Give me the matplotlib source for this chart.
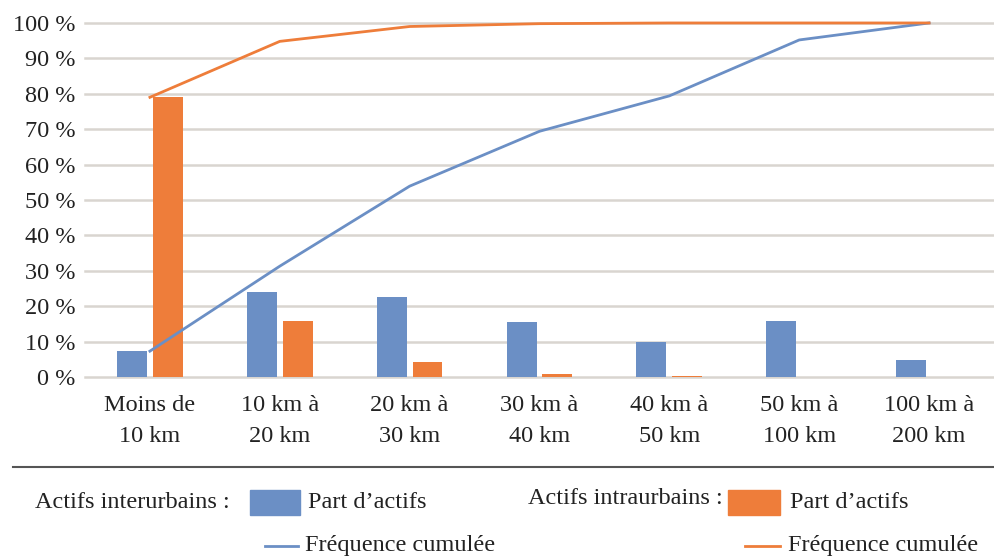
import matplotlib
matplotlib.use("Agg")
import matplotlib.pyplot as plt
from matplotlib.patches import Rectangle
from matplotlib.lines import Line2D
import numpy as np

plt.rcParams['font.family'] = ['Liberation Serif', 'DejaVu Serif']

categories = ["Moins de\n10 km", "10 km à\n20 km", "20 km à\n30 km", "30 km à\n40 km",
              "40 km à\n50 km", "50 km à\n100 km", "100 km à\n200 km"]
inter_part = [7.3, 24.0, 22.6, 15.5, 10.0, 15.8, 4.8]
intra_part = [79.0, 15.8, 4.2, 0.8, 0.2, 0.0, 0.0]
inter_cum = [7.3, 31.3, 53.9, 69.4, 79.4, 95.2, 100.0]
intra_cum = [79.0, 94.8, 99.0, 99.8, 100.0, 100.0, 100.0]
yticks = [0, 10, 20, 30, 40, 50, 60, 70, 80, 90, 100]

blue = "#6B8FC5"
orange = "#EE7D3A"
grid = "#D9D5D0"
txt = "#222222"

fig = plt.figure(figsize=(9.94, 5.6), dpi=100)
ax = fig.add_axes([0.0855, 0.3268, 0.9145, 0.6322])

x = np.arange(len(categories))
w = 0.23
ax.bar(x - 0.138, inter_part, w, color=blue, zorder=2)
ax.bar(x + 0.138, intra_part, w, color=orange, zorder=2)
ax.plot(x, inter_cum, color=blue, lw=2, zorder=3, clip_on=False)
ax.plot(x, intra_cum, color=orange, lw=2, zorder=3, clip_on=False)

ax.set_xlim(-0.5, len(categories) - 0.5)
ax.set_ylim(0, 100)
ax.set_yticks(yticks)
ax.set_yticklabels([f"{v} %" for v in yticks])
ax.set_xticks(x)
ax.set_xticklabels(categories, linespacing=1.6)
ax.tick_params(axis='y', length=0, pad=7, labelsize=17.5, labelcolor=txt)
ax.tick_params(axis='x', length=0, pad=13, labelsize=17.5, labelcolor=txt)

for v in yticks:
    ax.axhline(v, color=grid, lw=1.8, zorder=1, clip_on=False)
for s in ax.spines.values():
    s.set_visible(False)

# legend block under the chart
fig.add_artist(Line2D([0.013, 1.0], [1 - 467 / 560] * 2, color="#555555", lw=1.5))
fs = 17.5
fig.text(35 / 994, 1 - 502 / 560, "Actifs interurbains :", fontsize=fs, va='center', color=txt)
fig.add_artist(Rectangle((250 / 994, 1 - 515 / 560), 50 / 994, 25 / 560, color=blue))
fig.text(308 / 994, 1 - 502 / 560, "Part d’actifs", fontsize=fs, va='center', color=txt)
fig.text(528 / 994, 1 - 499 / 560, "Actifs intraurbains :", fontsize=fs, va='center', color=txt)
fig.add_artist(Rectangle((728 / 994, 1 - 515 / 560), 52 / 994, 25 / 560, color=orange))
fig.text(790 / 994, 1 - 502 / 560, "Part d’actifs", fontsize=fs, va='center', color=txt)

fig.add_artist(Line2D([265 / 994, 298 / 994], [1 - 546 / 560] * 2, color=blue, lw=2))
fig.text(305 / 994, 1 - 546 / 560, "Fréquence cumulée", fontsize=fs, va='center', color=txt)
fig.add_artist(Line2D([745 / 994, 780 / 994], [1 - 546 / 560] * 2, color=orange, lw=2))
fig.text(788 / 994, 1 - 546 / 560, "Fréquence cumulée", fontsize=fs, va='center', color=txt)

fig.savefig("out.png", dpi=100)
